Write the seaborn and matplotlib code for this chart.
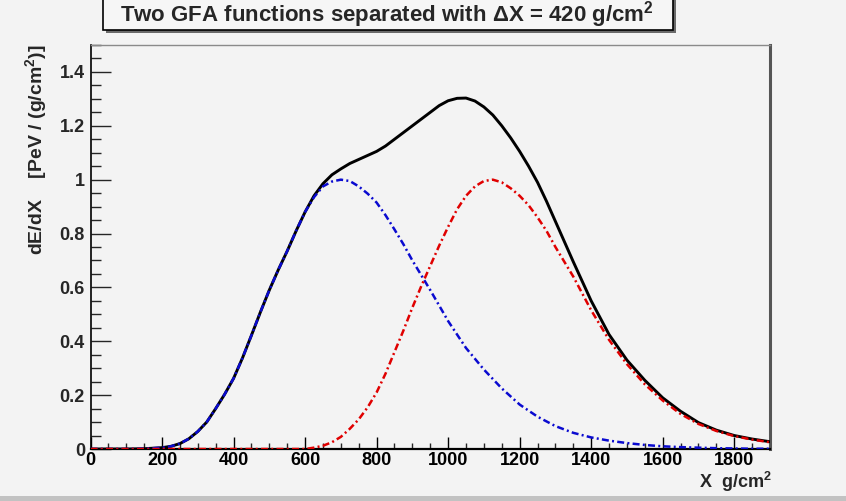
import matplotlib
matplotlib.use("Agg")
import matplotlib.pyplot as plt
from matplotlib.patches import Rectangle
from matplotlib.ticker import MultipleLocator, FixedLocator, FuncFormatter
import pandas as pd
import seaborn as sns

# First shower profile (maximum near 700 g/cm^2)
first_x = [0, 100, 150, 200, 225, 250, 275, 300, 325, 350, 375, 400, 425,
           450, 475, 500, 525, 550, 575, 600, 625, 650, 675, 700, 725, 750,
           775, 800, 825, 850, 875, 900, 950, 1000, 1050, 1100, 1150, 1200,
           1250, 1300, 1350, 1400, 1450, 1500, 1550, 1600, 1650, 1700, 1750,
           1800, 1850, 1900]
first_y = [0, 0, 0.001, 0.005, 0.01, 0.02, 0.038, 0.065, 0.1, 0.15, 0.203,
           0.262, 0.338, 0.422, 0.508, 0.59, 0.665, 0.735, 0.81, 0.88, 0.935,
           0.975, 0.993, 1.0, 0.995, 0.975, 0.948, 0.915, 0.868, 0.815, 0.76,
           0.70, 0.59, 0.475, 0.375, 0.295, 0.225, 0.165, 0.12, 0.085, 0.06,
           0.043, 0.031, 0.022, 0.015, 0.01, 0.007, 0.005, 0.003, 0.002,
           0.001, 0.001]

# Second shower profile (maximum near 1120 g/cm^2)
second_x = [0, 600, 625, 650, 675, 700, 725, 750, 775, 800, 825, 850, 875,
            900, 925, 950, 975, 1000, 1025, 1050, 1075, 1100, 1125, 1150,
            1175, 1200, 1225, 1250, 1275, 1300, 1325, 1350, 1400, 1450, 1500,
            1550, 1600, 1650, 1700, 1750, 1800, 1850, 1900]
second_y = [0, 0, 0.005, 0.012, 0.025, 0.045, 0.075, 0.11, 0.155, 0.21, 0.28,
            0.36, 0.44, 0.525, 0.605, 0.68, 0.755, 0.825, 0.89, 0.94, 0.975,
            0.995, 1.0, 0.99, 0.968, 0.94, 0.905, 0.86, 0.81, 0.75, 0.695,
            0.64, 0.515, 0.405, 0.315, 0.24, 0.18, 0.13, 0.093, 0.067, 0.048,
            0.035, 0.025]

# Combined profile
total_x = [0, 100, 150, 200, 225, 250, 275, 300, 325, 350, 375, 400, 425,
           450, 475, 500, 525, 550, 575, 600, 625, 650, 675, 700, 725, 750,
           775, 800, 825, 850, 875, 900, 925, 950, 975, 1000, 1025, 1050,
           1075, 1100, 1125, 1150, 1175, 1200, 1225, 1250, 1275, 1300, 1350,
           1400, 1450, 1500, 1550, 1600, 1650, 1700, 1750, 1800, 1850, 1900]
total_y = [0, 0, 0.001, 0.005, 0.01, 0.02, 0.038, 0.065, 0.1, 0.15, 0.203,
           0.262, 0.338, 0.422, 0.508, 0.59, 0.665, 0.735, 0.81, 0.88, 0.94,
           0.985, 1.018, 1.04, 1.06, 1.075, 1.09, 1.105, 1.125, 1.15, 1.175,
           1.20, 1.225, 1.25, 1.275, 1.293, 1.302, 1.303, 1.292, 1.27, 1.24,
           1.20, 1.155, 1.105, 1.05, 0.99, 0.92, 0.845, 0.695, 0.55, 0.425,
           0.33, 0.255, 0.19, 0.14, 0.098, 0.07, 0.05, 0.037, 0.027]

x_ticks = [0, 200, 400, 600, 800, 1000, 1200, 1400, 1600, 1800]
y_ticks = [0, 0.2, 0.4, 0.6, 0.8, 1.0, 1.2, 1.4]

BG = "#f3f3f3"
W, H = 846, 501

sns.set_style("ticks")
plt.rcParams["font.family"] = ["Liberation Sans", "DejaVu Sans"]
plt.rcParams["font.weight"] = "bold"
plt.rcParams["mathtext.fontset"] = "custom"
plt.rcParams["mathtext.rm"] = "Liberation Sans:bold"
plt.rcParams["mathtext.bf"] = "Liberation Sans:bold"
plt.rcParams["mathtext.it"] = "Liberation Sans:bold:italic"

fig = plt.figure(figsize=(W / 100, H / 100), dpi=100, facecolor=BG)
left, right, top, bottom = 90.5, 770, 45, 449
ax = fig.add_axes([left / W, (H - bottom) / H, (right - left) / W,
                   (bottom - top) / H])
ax.set_facecolor(BG)

total_df = pd.DataFrame({"X": total_x, "dEdX": total_y})
first_df = pd.DataFrame({"X": first_x, "dEdX": first_y})
second_df = pd.DataFrame({"X": second_x, "dEdX": second_y})

dashdot = (0, (2.8, 1.3, 0.8, 1.3))
sns.lineplot(data=total_df, x="X", y="dEdX", ax=ax, color="black",
             linewidth=2.1, estimator=None, sort=False, zorder=3)
sns.lineplot(data=first_df, x="X", y="dEdX", ax=ax, color="#0a0ad0",
             linewidth=1.8, linestyle=dashdot, estimator=None, sort=False,
             zorder=4)
sns.lineplot(data=second_df, x="X", y="dEdX", ax=ax, color="#e00000",
             linewidth=1.8, linestyle=dashdot, estimator=None, sort=False,
             zorder=4)

ax.set_xlim(0, 1900)
ax.set_ylim(0, 1.5)
ax.set_xlabel("")
ax.set_ylabel("")

ax.xaxis.set_major_locator(FixedLocator(x_ticks))
ax.xaxis.set_minor_locator(MultipleLocator(50))
ax.yaxis.set_major_locator(FixedLocator(y_ticks))
ax.yaxis.set_minor_locator(MultipleLocator(0.05))
ax.yaxis.set_major_formatter(FuncFormatter(lambda v, p: f"{v:g}"))
ax.xaxis.set_major_formatter(FuncFormatter(lambda v, p: f"{v:g}"))

ax.tick_params(axis="x", which="major", direction="in", length=8.6, width=1,
               top=False, labelsize=13, pad=2, colors="black")
ax.tick_params(axis="x", which="minor", direction="in", length=4.3, width=1,
               top=False)
ax.tick_params(axis="y", which="major", direction="in", length=14.4, width=1,
               right=False, labelsize=13, pad=4)
ax.tick_params(axis="y", which="minor", direction="in", length=7.2, width=1,
               right=False)
for lab in ax.get_xticklabels() + ax.get_yticklabels():
    lab.set_fontweight("bold")

ax.spines["left"].set_color("black")
ax.spines["left"].set_linewidth(1.2)
ax.spines["bottom"].set_color("black")
ax.spines["bottom"].set_linewidth(1.6)
ax.spines["top"].set_color("#8a8a8a")
ax.spines["top"].set_linewidth(1.0)
ax.spines["right"].set_color("#555555")
ax.spines["right"].set_linewidth(2.2)

# Title box with drop shadow
bx0, bx1, by0, by1 = 103, 673, -3, 30
fig.patches.append(Rectangle(((bx0 + 3) / W, 1 - (by1 + 3) / H),
                             (bx1 - bx0) / W, (by1 - by0) / H,
                             transform=fig.transFigure, facecolor="#6a6a6a",
                             edgecolor="none", zorder=0))
fig.patches.append(Rectangle((bx0 / W, 1 - by1 / H), (bx1 - bx0) / W,
                             (by1 - by0) / H, transform=fig.transFigure,
                             facecolor="#f6f6f6", edgecolor="black",
                             linewidth=1.2, zorder=1))
fig.text(387 / W, 1 - 15 / H,
         "Two GFA functions separated with ΔX = 420 g/cm$^{2}$",
         ha="center", va="center", fontsize=16, fontweight="bold", zorder=2)

# Axis titles
fig.text(36 / W, 1 - 44 / H, "dE/dX    [PeV / (g/cm$^{2}$)]", rotation=90,
         ha="center", va="top", fontsize=14, fontweight="bold")
fig.text(772 / W, 1 - 488 / H, "X  g/cm$^{2}$", ha="right", va="baseline",
         fontsize=13, fontweight="bold")

# Canvas bottom border
fig.patches.append(Rectangle((0, 0), 1, 5 / H, transform=fig.transFigure,
                             facecolor="#c2c2c2", edgecolor="none"))

fig.savefig("out.png", dpi=100, facecolor=BG)
